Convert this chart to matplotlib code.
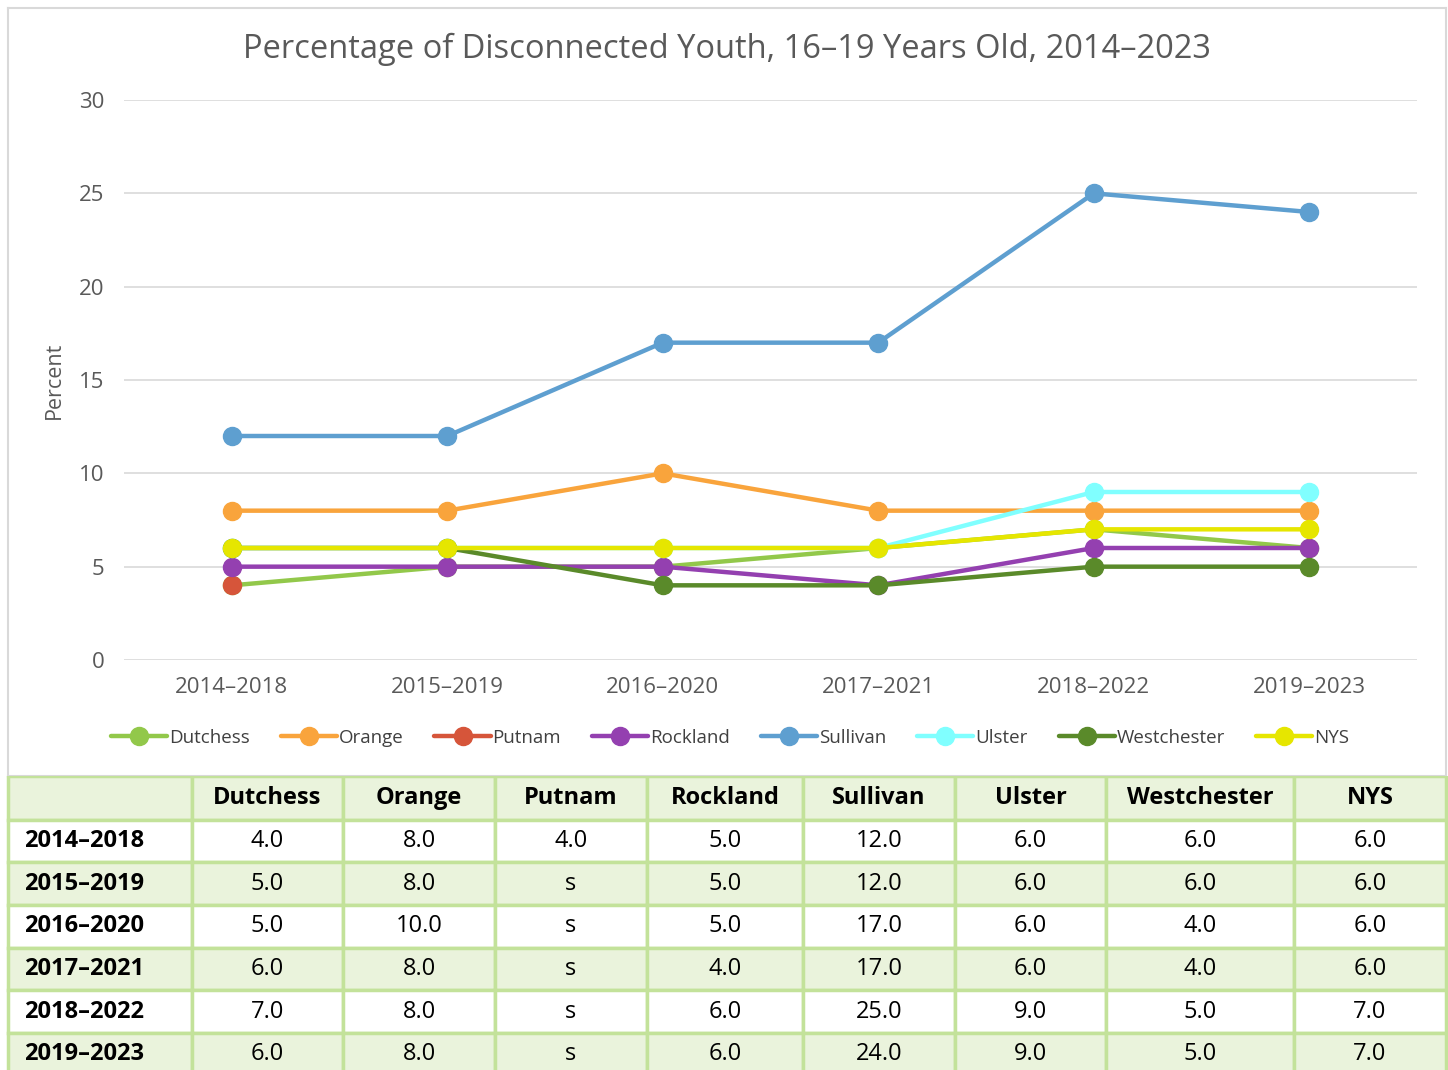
import numpy as np
import matplotlib
matplotlib.use("Agg")
import matplotlib.pyplot as plt
from matplotlib.patches import Rectangle

periods = ["2014–2018", "2015–2019", "2016–2020", "2017–2021", "2018–2022", "2019–2023"]
dutchess = [4.0, 5.0, 5.0, 6.0, 7.0, 6.0]
orange = [8.0, 8.0, 10.0, 8.0, 8.0, 8.0]
putnam = [4.0, None, None, None, None, None]
rockland = [5.0, 5.0, 5.0, 4.0, 6.0, 6.0]
sullivan = [12.0, 12.0, 17.0, 17.0, 25.0, 24.0]
ulster = [6.0, 6.0, 6.0, 6.0, 9.0, 9.0]
westchester = [6.0, 6.0, 4.0, 4.0, 5.0, 5.0]
nys = [6.0, 6.0, 6.0, 6.0, 7.0, 7.0]

names = ["Dutchess", "Orange", "Putnam", "Rockland", "Sullivan", "Ulster", "Westchester", "NYS"]
series = [dutchess, orange, putnam, rockland, sullivan, ulster, westchester, nys]
colors = ["#92C84A", "#F9A43C", "#D6553A", "#9440B0", "#5E9FD0", "#80FFFF", "#5A8A2A", "#E6E600"]

plt.rcParams['font.family'] = ['Open Sans', 'DejaVu Sans']

W, H = 1448, 1070
fig = plt.figure(figsize=(W / 100, H / 100), dpi=100)

def box(x0, y0, x1, y1):
    return [x0 / W, 1 - y1 / H, (x1 - x0) / W, (y1 - y0) / H]

# chart frame
frame = fig.add_axes(box(8, 8, 1446, 776))
frame.set_xticks([]); frame.set_yticks([])
for s in frame.spines.values():
    s.set_color("#D9D9D9"); s.set_linewidth(1.5)
frame.patch.set_alpha(0)

ax = fig.add_axes(box(124, 100, 1417, 660))
x = np.arange(len(periods))
for name, vals, c in zip(names, series, colors):
    y = np.array([np.nan if v is None else v for v in vals], dtype=float)
    ax.plot(x, y, color=c, lw=3.2, marker="o", ms=13, label=name, solid_capstyle="round")
ax.set_xlim(-0.5, len(periods) - 0.5)
ax.set_ylim(0, 30)
ax.set_yticks(range(0, 31, 5))
ax.set_xticks(x)
ax.set_xticklabels(periods)
ax.grid(axis="y", color="#D9D9D9", lw=1.2)
ax.set_axisbelow(True)
for s in ax.spines.values():
    s.set_visible(False)
ax.tick_params(length=0, labelsize=16, colors="#595959", pad=12)
ax.tick_params(axis="y", pad=14)
ax.set_ylabel("Percent", fontsize=15.5, color="#595959", labelpad=10)
fig.text(727 / W, 1 - 49 / H, "Percentage of Disconnected Youth, 16–19 Years Old, 2014–2023",
         ha="center", va="center", fontsize=23.5, color="#595959")
fig.legend(loc="center", bbox_to_anchor=(730 / W, 1 - 738 / H), ncol=8, frameon=False,
           fontsize=13.5, handlelength=3.0, handletextpad=0.1, columnspacing=1.65,
           labelcolor="#404040")

# table
tax = fig.add_axes(box(0, 776, W, H))
tax.set_xlim(0, W); tax.set_ylim(H, 776)
tax.axis("off")
col_edges = [8, 192, 343, 495, 647, 803, 955, 1106, 1294, 1446]
row_edges = [776, 820, 862, 905, 948, 990, 1033, 1076]
green = "#EAF3DC"
border = "#C3E29A"
for r in range(len(row_edges) - 1):
    fill = green if r % 2 == 0 else "white"
    for c in range(len(col_edges) - 1):
        tax.add_patch(Rectangle((col_edges[c], row_edges[r]), col_edges[c + 1] - col_edges[c],
                                row_edges[r + 1] - row_edges[r], facecolor=fill,
                                edgecolor=border, lw=2.5))
def cy(r):
    return (row_edges[r] + row_edges[r + 1]) / 2
def cx(c):
    return (col_edges[c] + col_edges[c + 1]) / 2
for c, n in enumerate(names):
    tax.text(cx(c + 1), cy(0), n, ha="center", va="center", fontsize=17, fontweight="bold", color="black")
for r, p in enumerate(periods):
    tax.text(24, cy(r + 1), p, ha="left", va="center", fontsize=17, fontweight="bold", color="black")
    for c, vals in enumerate(series):
        v = vals[r]
        txt = "s" if v is None else f"{v:.1f}"
        tax.text(cx(c + 1), cy(r + 1), txt, ha="center", va="center", fontsize=17, color="black")

fig.savefig("out.png", dpi=100)
